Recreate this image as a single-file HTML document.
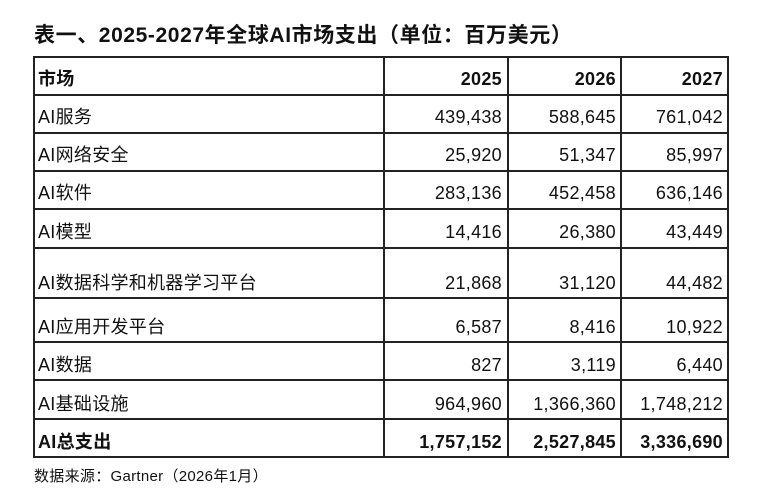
<!DOCTYPE html>
<html><head><meta charset="utf-8"><style>
body{margin:0;width:762px;height:500px;background:#fff;position:relative;overflow:hidden;font-family:"Liberation Sans","Noto Sans CJK SC",sans-serif;color:#111}
.h,.v{position:absolute;background:#222}
.h{height:2px;left:33px;width:696px}
.v{width:2px;top:57px;height:401px}
.t{position:absolute;font-size:18px;line-height:20px;white-space:nowrap;letter-spacing:0.3px}
.r{text-align:right}
.b{font-weight:bold}
</style></head><body>
<div class="t b" style="left:34px;top:23px;font-size:21px;line-height:26px;letter-spacing:0.6px">表一、2025-2027年全球AI市场支出（单位：百万美元）</div>
<div class="h" style="top:56px"></div><div class="h" style="top:94px"></div><div class="h" style="top:132px"></div><div class="h" style="top:170px"></div><div class="h" style="top:208px"></div><div class="h" style="top:247px"></div><div class="h" style="top:297px"></div><div class="h" style="top:341px"></div><div class="h" style="top:379px"></div><div class="h" style="top:418px"></div><div class="h" style="top:456px"></div>
<div class="v" style="left:33px"></div><div class="v" style="left:383px"></div><div class="v" style="left:507px"></div><div class="v" style="left:620px"></div><div class="v" style="left:727px"></div>
<div id="rows"></div>
<script>
var rows=[["市场","2025","2026","2027",69,1],["AI服务","439,438","588,645","761,042",107],["AI网络安全","25,920","51,347","85,997",145],["AI软件","283,136","452,458","636,146",183],["AI模型","14,416","26,380","43,449",222],["AI数据科学和机器学习平台","21,868","31,120","44,482",273],["AI应用开发平台","6,587","8,416","10,922",317],["AI数据","827","3,119","6,440",355],["AI基础设施","964,960","1,366,360","1,748,212",394],["AI总支出","1,757,152","2,527,845","3,336,690",432,1]];
var h="",R=[502,616,723];
rows.forEach(function(r){var c=r[5]?" b":"";h+='<div class="t'+c+'" style="left:38px;top:'+r[4]+'px">'+r[0]+'</div>';for(var i=0;i<3;i++)h+='<div class="t r'+c+'" style="right:'+(762-R[i])+'px;top:'+r[4]+'px">'+r[i+1]+'</div>';});
document.getElementById("rows").innerHTML=h;
</script>
<div class="t" style="left:34px;top:467px;font-size:15px;letter-spacing:0.3px">数据来源：Gartner（2026年1月）</div>
</body></html>
